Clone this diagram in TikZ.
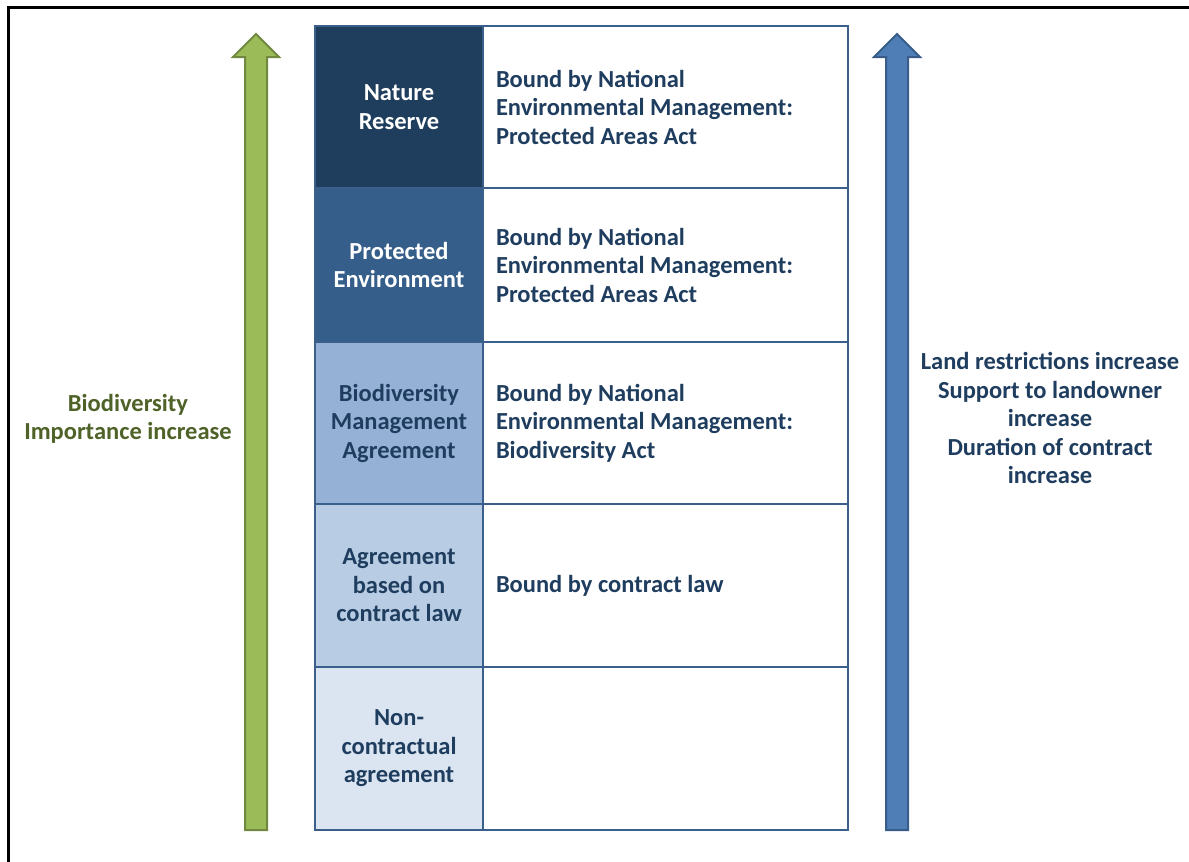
\documentclass[tikz,border=0pt]{standalone}
\usepackage{fontspec}
\setmainfont{Carlito}
\definecolor{navytext}{HTML}{1F3D5E}
\definecolor{gridline}{HTML}{3A5F8B}
\definecolor{levelA}{HTML}{1F3D5C}
\definecolor{levelB}{HTML}{365E8B}
\definecolor{levelC}{HTML}{95B2D6}
\definecolor{levelD}{HTML}{B8CCE4}
\definecolor{levelE}{HTML}{DBE5F1}
\definecolor{leafgreen}{HTML}{9BBB59}
\definecolor{leafedge}{HTML}{71893F}
\definecolor{skyfill}{HTML}{4F7DB6}
\definecolor{skyedge}{HTML}{385D8A}
\definecolor{olivetext}{HTML}{4F6228}
\tikzset{
  cell/.style      = {shape=rectangle, draw=gridline, line width=2.5pt,
                      inner sep=0pt, outer sep=0pt},
  status/.style    = {cell, minimum width=168pt, align=center, text=navytext},
  law/.style       = {cell, minimum width=365pt, text width=339pt,
                      align=left, text=navytext,
                      execute at begin node={\spaceskip=0pt\xspaceskip=0pt\relax}},
  sidelabel/.style = {align=center, inner sep=0pt},
  uparrow/.style   = {line width=2pt, line join=miter}
}
\begin{document}
\begin{tikzpicture}
  [
    x = 1pt, y = -1pt,
    every node/.style = {font=\fontsize{24.5}{28.5}\selectfont\bfseries}
  ]
  \useasboundingbox (0,0) rectangle (1189,862);
  \fill[white] (0,0) rectangle (1189,862);
  \draw[line width=3pt] (8.5,870) |- (1195,7);

  % protection levels
  \node [status, fill=levelA, text=white, minimum height=162pt] (reserve) at (399,107) {Nature\\Reserve};
  \node [status, fill=levelB, text=white, minimum height=154pt] (protenv) at (399,265) {Protected\\Environment};
  \node [status, fill=levelC, minimum height=162pt] (bma) at (399,423) {Biodiversity\\Management\\Agreement};
  \node [status, fill=levelD, minimum height=163pt] (contract) at (399,585.5) {Agreement\\based on\\contract law};
  \node [status, fill=levelE, minimum height=163pt] (noncontract) at (399,748.5) {Non-\\contractual\\agreement};

  \node [law, minimum height=162pt] (reservelaw) at (665.5,107) {Bound by National\\Environmental Management:\\Protected Areas Act};
  \node [law, minimum height=154pt] (protenvlaw) at (665.5,265) {Bound by National\\Environmental Management:\\Protected Areas Act};
  \node [law, minimum height=162pt] (bmalaw) at (665.5,423) {Bound by National\\Environmental Management:\\Biodiversity Act};
  \node [law, minimum height=163pt] (contractlaw) at (665.5,585.5) {Bound by contract law};
  \node [law, minimum height=163pt] (noncontractlaw) at (665.5,748.5) {};

  % side arrows
  \draw [uparrow, fill=leafgreen, draw=leafedge]
    (245,830) -- (245,57) -- (233,57) -- (256,34) -- (279,57) -- (267,57) -- (267,830) -- cycle;
  \draw [uparrow, fill=skyfill, draw=skyedge]
    (886,830) -- (886,57) -- (874,57) -- (897,34) -- (920,57) -- (908,57) -- (908,830) -- cycle;

  \node [sidelabel, text=olivetext] (biodiv) at (128,419) {Biodiversity\\Importance increase};
  \node [sidelabel, text=navytext] (restrict) at (1050,418)
    {Land restrictions increase\\Support to landowner\\increase\\Duration of contract\\increase};
\end{tikzpicture}
\end{document}
